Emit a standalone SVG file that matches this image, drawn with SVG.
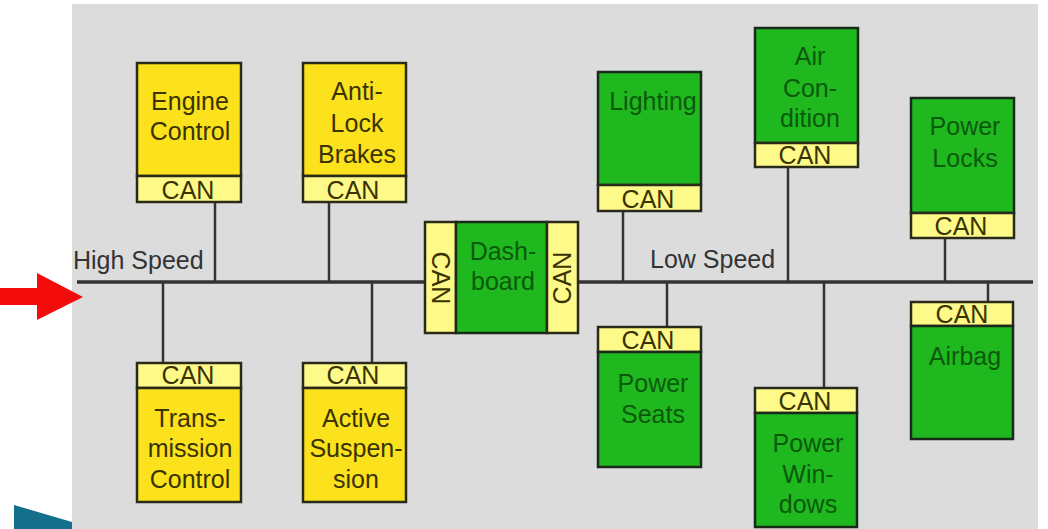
<svg xmlns="http://www.w3.org/2000/svg" width="1048" height="529" viewBox="0 0 1048 529">
<style>
.t{font-family:"Liberation Sans",Arial,sans-serif;font-size:25px;text-anchor:middle}
.ty{fill:#3a3300}
.tg{fill:#0b5a0b}
.lbl{font-family:"Liberation Sans",Arial,sans-serif;font-size:25px;fill:#333}
.y{fill:#fbe21d;stroke:#2a2a1a;stroke-width:2.5}
.g{fill:#1fb81f;stroke:#1a2a1a;stroke-width:2.5}
.can{fill:#fdfa8a;stroke:#2a2a1a;stroke-width:2.5}
.w{stroke:#333;stroke-width:2.5;fill:none}
.bus{stroke:#333;stroke-width:3.5;fill:none}
</style>
<rect x="0" y="0" width="1048" height="529" fill="#fff"/>
<polygon points="14,505 72,522 72,529 14,529" fill="#136f8a"/>
<rect x="72" y="526" width="30" height="3" fill="#a6eef5"/>
<rect x="72" y="4" width="966" height="525" fill="#dcdcdc"/>
<polygon points="0,288 37,288 37,273 83,297 37,320 37,305 0,305" fill="#f20c0c"/>
<g id="connectors">
<line class="bus" x1="77" y1="282" x2="425" y2="282"/>
<line class="bus" x1="578" y1="282" x2="1033" y2="282"/>
<line class="w" x1="215" y1="202" x2="215" y2="282"/>
<line class="w" x1="163" y1="282" x2="163" y2="363"/>
<line class="w" x1="329" y1="202" x2="329" y2="282"/>
<line class="w" x1="372" y1="282" x2="372" y2="363"/>
<line class="w" x1="623" y1="211" x2="623" y2="282"/>
<line class="w" x1="667" y1="282" x2="667" y2="327"/>
<line class="w" x1="788" y1="167" x2="788" y2="282"/>
<line class="w" x1="824" y1="282" x2="824" y2="388"/>
<line class="w" x1="945" y1="238" x2="945" y2="282"/>
<line class="w" x1="988" y1="282" x2="988" y2="302"/>
</g>
<text class="lbl" x="73" y="269">High Speed</text>
<text class="lbl" x="650" y="268">Low Speed</text>
<g id="engine">
<rect class="y" x="137" y="63" width="104" height="113"/>
<rect class="can" x="137" y="176" width="104" height="26"/>
<text class="t ty" x="190" y="110">Engine</text>
<text class="t ty" x="190" y="140">Control</text>
<text class="t ty" x="188" y="199">CAN</text>
</g>
<g id="transmission">
<rect class="can" x="137" y="363" width="104" height="25"/>
<rect class="y" x="137" y="388" width="104" height="114"/>
<text class="t ty" x="188" y="384">CAN</text>
<text class="t ty" x="190" y="427">Trans-</text>
<text class="t ty" x="190" y="457">mission</text>
<text class="t ty" x="190" y="488">Control</text>
</g>
<g id="abs">
<rect class="y" x="303" y="63" width="103" height="113"/>
<rect class="can" x="303" y="176" width="103" height="26"/>
<text class="t ty" x="357" y="100">Anti-</text>
<text class="t ty" x="357" y="132">Lock</text>
<text class="t ty" x="357" y="163">Brakes</text>
<text class="t ty" x="353" y="199">CAN</text>
</g>
<g id="suspension">
<rect class="can" x="303" y="363" width="103" height="25"/>
<rect class="y" x="303" y="388" width="103" height="114"/>
<text class="t ty" x="353" y="384">CAN</text>
<text class="t ty" x="356" y="427">Active</text>
<text class="t ty" x="356" y="457">Suspen-</text>
<text class="t ty" x="356" y="488">sion</text>
</g>
<g id="dashboard">
<rect class="can" x="425" y="222" width="31" height="111"/>
<rect class="g" x="456" y="222" width="91" height="111"/>
<rect class="can" x="547" y="222" width="31" height="111"/>
<text class="t tg" x="503" y="260">Dash-</text>
<text class="t tg" x="503" y="290">board</text>
<text class="t ty" transform="translate(432,278) rotate(90)">CAN</text>
<text class="t ty" transform="translate(571,278) rotate(-90)">CAN</text>
</g>
<g id="lighting">
<rect class="g" x="598" y="72" width="103" height="113"/>
<rect class="can" x="598" y="185" width="103" height="26"/>
<text class="t tg" x="653" y="110">Lighting</text>
<text class="t ty" x="648" y="208">CAN</text>
</g>
<g id="aircon">
<rect class="g" x="755" y="28" width="103" height="115"/>
<rect class="can" x="755" y="143" width="103" height="24"/>
<text class="t tg" x="810" y="65">Air</text>
<text class="t tg" x="810" y="97">Con-</text>
<text class="t tg" x="810" y="127">dition</text>
<text class="t ty" x="805" y="164">CAN</text>
</g>
<g id="powerlocks">
<rect class="g" x="911" y="98" width="103" height="115"/>
<rect class="can" x="911" y="213" width="103" height="25"/>
<text class="t tg" x="965" y="135">Power</text>
<text class="t tg" x="965" y="167">Locks</text>
<text class="t ty" x="961" y="235">CAN</text>
</g>
<g id="powerseats">
<rect class="can" x="598" y="327" width="103" height="25"/>
<rect class="g" x="598" y="352" width="103" height="115"/>
<text class="t ty" x="648" y="349">CAN</text>
<text class="t tg" x="653" y="392">Power</text>
<text class="t tg" x="653" y="423">Seats</text>
</g>
<g id="powerwindows">
<rect class="can" x="755" y="388" width="102" height="25"/>
<rect class="g" x="755" y="413" width="102" height="114"/>
<text class="t ty" x="805" y="410">CAN</text>
<text class="t tg" x="808" y="452">Power</text>
<text class="t tg" x="808" y="483">Win-</text>
<text class="t tg" x="808" y="513">dows</text>
</g>
<g id="airbag">
<rect class="can" x="911" y="302" width="102" height="24"/>
<rect class="g" x="911" y="326" width="102" height="113"/>
<text class="t ty" x="962" y="323">CAN</text>
<text class="t tg" x="965" y="365">Airbag</text>
</g>
</svg>
